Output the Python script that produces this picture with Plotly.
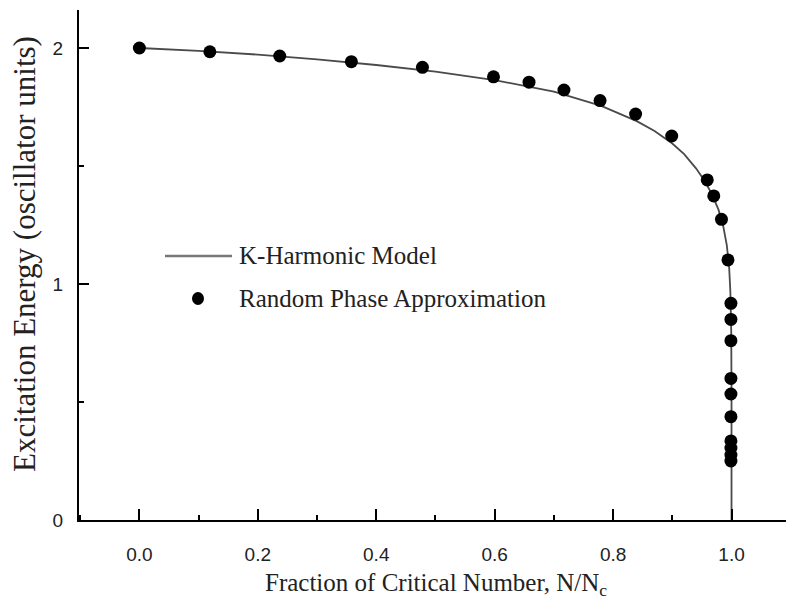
import plotly.graph_objects as go

# K-Harmonic model curve: excitation energy vs N/Nc
khm_x = [0.0, 0.1, 0.2, 0.3, 0.4, 0.5, 0.6, 0.7, 0.78, 0.84, 0.87, 0.90,
         0.92, 0.94, 0.955, 0.967, 0.978, 0.986, 0.992, 0.996, 0.998,
         0.9995, 1.0, 1.0]
khm_y = [2.0, 1.988, 1.972, 1.952, 1.928, 1.900, 1.864, 1.815, 1.755, 1.690,
         1.648, 1.595, 1.550, 1.490, 1.435, 1.380, 1.315, 1.245, 1.165, 1.07,
         0.97, 0.80, 0.55, 0.0]

# Random Phase Approximation results
rpa_x = [0.0, 0.119, 0.237, 0.358, 0.478, 0.598, 0.658, 0.717, 0.778, 0.838,
         0.899, 0.959, 0.970, 0.983, 0.994, 0.999, 0.999, 0.999, 0.999, 0.999,
         0.999, 0.999, 0.999, 0.999, 0.999]
rpa_y = [2.0, 1.984, 1.966, 1.942, 1.918, 1.878, 1.855, 1.822, 1.777, 1.720,
         1.627, 1.441, 1.373, 1.274, 1.102, 0.918, 0.850, 0.760, 0.600, 0.534,
         0.438, 0.335, 0.305, 0.275, 0.250]

x_ticks = [0.0, 0.2, 0.4, 0.6, 0.8, 1.0]
x_ticklabels = ["0.0", "0.2", "0.4", "0.6", "0.8", "1.0"]
y_ticks = [0, 1, 2]
y_ticklabels = ["0", "1", "2"]

legend_labels = ["K-Harmonic Model", "Random Phase Approximation"]
x_title = "Fraction of Critical Number, N/N<sub>c</sub>"
y_title = "Excitation Energy (oscillator units)"

W, H = 786, 610
L, R, T, B = 79, 0, 10, 90
PW, PH = W - L - R, H - T - B


def px(x):
    return (x - L) / PW


def py(y):
    return (H - B - y) / PH


SERIF = "Liberation Serif, Times New Roman, serif"
SANS = "Liberation Sans, Arial, sans-serif"

fig = go.Figure()
fig.add_trace(go.Scatter(x=khm_x, y=khm_y, mode="lines",
                         line=dict(color="#4a4a4a", width=1.8),
                         name=legend_labels[0], showlegend=False))
fig.add_trace(go.Scatter(x=rpa_x, y=rpa_y, mode="markers",
                         marker=dict(color="black", size=13),
                         name=legend_labels[1], showlegend=False))

axis_common = dict(showline=True, linecolor="black", linewidth=2,
                   ticks="inside", tickcolor="black", tickwidth=2,
                   showgrid=False, zeroline=False,
                   tickfont=dict(family=SANS, size=19, color="#222"))

fig.update_xaxes(range=[-0.102, 1.092], tickvals=x_ticks, ticktext=x_ticklabels,
                 ticklen=11, ticklabelstandoff=16,
                 minor=dict(dtick=0.1, tick0=0, ticks="inside", ticklen=5,
                            tickwidth=1.5, tickcolor="black"),
                 **axis_common)
fig.update_yaxes(range=[0, 2.161], tickvals=y_ticks, ticktext=y_ticklabels,
                 ticklen=10, ticklabelstandoff=10,
                 minor=dict(dtick=0.5, tick0=0, ticks="inside", ticklen=5,
                            tickwidth=1.5, tickcolor="black"),
                 **axis_common)

# legend drawn as a line sample, a dot and two labels
shapes = [
    dict(type="line", xref="paper", yref="paper",
         x0=px(165), x1=px(232), y0=py(256), y1=py(256),
         line=dict(color="#777", width=2.5)),
    dict(type="circle", xref="paper", yref="paper",
         x0=px(192), x1=px(204), y0=py(292), y1=py(305),
         fillcolor="black", line=dict(color="black", width=0)),
]
annotations = [
    dict(text=legend_labels[0], x=px(237), y=py(256), xref="paper", yref="paper",
         xanchor="left", yanchor="middle", showarrow=False,
         font=dict(family=SERIF, size=25, color="#222")),
    dict(text=legend_labels[1], x=px(237), y=py(298), xref="paper", yref="paper",
         xanchor="left", yanchor="middle", showarrow=False,
         font=dict(family=SERIF, size=25, color="#222")),
    dict(text=x_title, x=px(436), y=py(584), xref="paper", yref="paper",
         xanchor="center", yanchor="middle", showarrow=False,
         font=dict(family=SERIF, size=25, color="#222")),
    dict(text=y_title, x=px(25), y=py(254), xref="paper", yref="paper",
         xanchor="center", yanchor="middle", showarrow=False, textangle=-90,
         font=dict(family=SERIF, size=31, color="#222")),
]

fig.update_layout(width=W, height=H, margin=dict(l=L, r=R, t=T, b=B),
                  plot_bgcolor="white", paper_bgcolor="white",
                  showlegend=False, shapes=shapes, annotations=annotations)

fig.write_html("out.html")
